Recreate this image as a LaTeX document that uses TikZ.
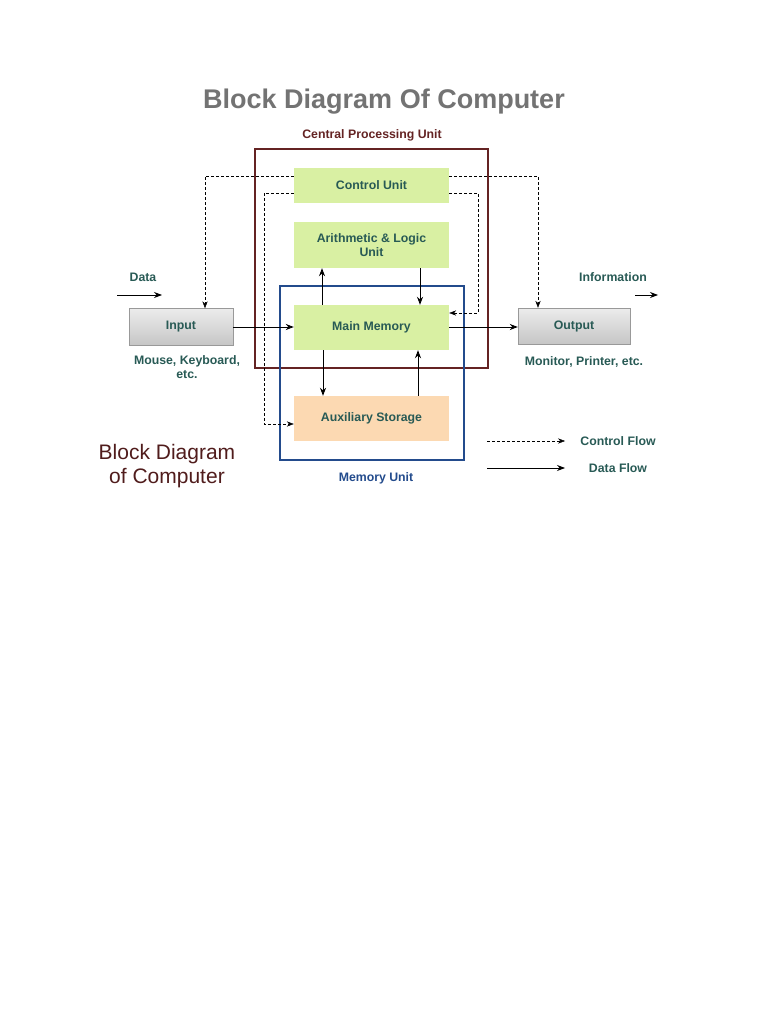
\documentclass[tikz,border=0pt]{standalone}
\usepackage{fontspec}
\setmainfont{Liberation Sans}
\usetikzlibrary{arrows.meta}
\definecolor{txt}{RGB}{40,90,85}
\definecolor{cpu}{RGB}{100,35,35}
\definecolor{mem}{RGB}{35,75,140}
\definecolor{grn}{RGB}{217,240,163}
\definecolor{peach}{RGB}{252,217,178}
\begin{document}
\begin{tikzpicture}[x=1pt,y=-1pt,>=Stealth,
  blk/.style={draw=none,minimum width=155pt,text=txt,font=\bfseries\fontsize{12.3}{13.5}\selectfont,align=center},
  io/.style={draw=gray!80,top color=gray!15,bottom color=gray!45,text=txt,font=\bfseries\fontsize{12.3}{13.5}\selectfont},
  lbl/.style={text=txt,font=\bfseries\fontsize{12.3}{13.5}\selectfont,align=center},
  ctl/.style={densely dashed,-{Stealth[length=7pt]}},
  dat/.style={thick,-{Stealth[length=8pt]}}]
\useasboundingbox (0,0) rectangle (768,1024);
\node[text=gray!90!black,font=\bfseries\fontsize{27}{30}\selectfont] (title) at (384,102) {Block Diagram Of Computer};
\node[text=cpu,font=\bfseries\fontsize{12.3}{13.5}\selectfont] (cpul) at (372,135) {Central Processing Unit};
\draw[cpu,line width=1.8pt] (255,149) rectangle (488,368);
\draw[mem,line width=1.8pt] (280,286) rectangle (464,460);
\node[blk,fill=grn,minimum height=35pt] (cu) at (371.5,185.5) {Control Unit};
\node[blk,fill=grn,minimum height=46pt] (alu) at (371.5,245) {Arithmetic \& Logic\\Unit};
\node[blk,fill=grn,minimum height=45pt] (mm) at (371.5,327.5) {Main Memory};
\node[blk,fill=peach,minimum height=45pt] (aux) at (371.5,418.5) {Auxiliary Storage};
\node[io,minimum width=104pt,minimum height=37pt] (in) at (181,327) {Input};
\node[io,minimum width=112pt,minimum height=36pt] (out) at (574,326) {Output};
% control flow
\draw[ctl] (cu.west|-0,176) -| (in.north-|205,0);
\draw[ctl] (cu.east|-0,176) -| (out.north-|538,0);
\draw[ctl] (cu.west|-0,193) -| (264,424) -- (aux.west|-0,424);
\draw[ctl] (cu.east|-0,193) -| (478,313) -- (mm.east|-0,313);
% data flow
\draw[dat] (in.east|-0,327) -- (mm.west|-0,327);
\draw[dat] (mm.east|-0,327) -- (out.west|-0,327);
\draw[dat] (mm.north-|322,0) -- (alu.south-|322,0);
\draw[dat] (alu.south-|420,0) -- (mm.north-|420,0);
\draw[dat] (mm.south-|323,0) -- (aux.north-|323,0);
\draw[dat] (aux.north-|418,0) -- (mm.south-|418,0);
\coordinate (d0) at (117,295); \coordinate (d1) at (162,295);
\draw[dat] (d0) -- (d1);
\coordinate (i0) at (635,295); \coordinate (i1) at (658,295);
\draw[dat] (i0) -- (i1);
\node[lbl] (data) at (143,277) {Data};
\node[lbl] (info) at (613,277) {Information};
\node[lbl] (mk) at (187,367) {Mouse, Keyboard,\\etc.};
\node[lbl] (mp) at (584,362) {Monitor, Printer, etc.};
\node[text=mem,font=\bfseries\fontsize{12.3}{13.5}\selectfont] (mu) at (376,478) {Memory Unit};
% legend
\coordinate (l0) at (487,441); \coordinate (l1) at (565,441);
\coordinate (l2) at (487,468); \coordinate (l3) at (565,468);
\draw[ctl] (l0) -- (l1);
\draw[dat] (l2) -- (l3);
\node[lbl] (cf) at (618,441) {Control Flow};
\node[lbl] (df) at (618,468) {Data Flow};
\node[text=cpu!80!black,font=\fontsize{21}{24}\selectfont,align=center] (bd) at (167,466) {Block Diagram\\of Computer};
\end{tikzpicture}
\end{document}
